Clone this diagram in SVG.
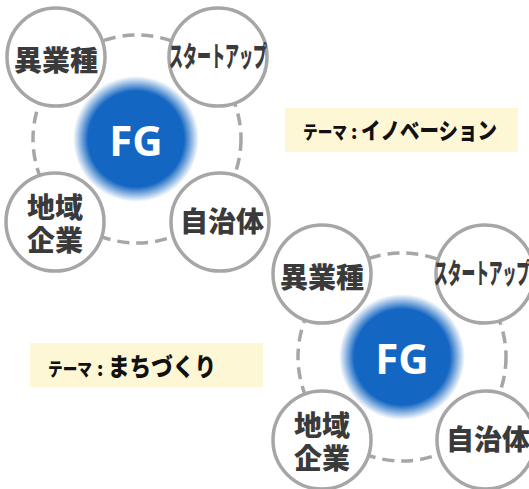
<svg xmlns="http://www.w3.org/2000/svg" width="529" height="489" viewBox="0 0 529 489">
<style>
.ring{fill:none;stroke:#a6a6a6;stroke-width:3.5;stroke-dasharray:12 7}
.sat{fill:#fff;stroke:#a6a6a6;stroke-width:3.5}
.st{font-family:"Noto Sans CJK JP","Noto Sans",sans-serif;font-weight:900;font-size:28px;fill:#3a3a3a;text-anchor:middle}
.fg{font-family:"Noto Sans","Liberation Sans",sans-serif;font-weight:bold;font-size:42px;fill:#fff;text-anchor:middle}
.lbl{fill:#fdf7d6}
.th{font-family:"Noto Sans CJK JP",sans-serif;font-weight:900;fill:#111}
</style>
<defs>
<radialGradient id="blue" cx="0.5" cy="0.5" r="0.5">
<stop offset="0" stop-color="#1366c2"/>
<stop offset="0.76" stop-color="#1366c2"/>
<stop offset="1" stop-color="#1366c2" stop-opacity="0"/>
</radialGradient>
</defs>
<rect width="529" height="489" fill="#fff"/>
<g id="connectors">
<circle class="ring" cx="137" cy="139" r="104"/>
<circle class="ring" cx="402" cy="357" r="104"/>
</g>
<g id="fg1"><circle cx="136" cy="139" r="63" fill="url(#blue)"/><text class="fg" x="136" y="156">FG</text></g>
<g id="ig1"><circle class="sat" cx="56" cy="57" r="49"/><text class="st" x="56" y="71">異業種</text></g>
<g id="su1"><circle class="sat" cx="218" cy="57" r="49"/><text class="st" x="218" y="67" textLength="98" lengthAdjust="spacingAndGlyphs">スタートアップ</text></g>
<g id="cl1"><circle class="sat" cx="55" cy="222" r="49"/><text class="st" x="55" y="218">地域</text><text class="st" x="55" y="251">企業</text></g>
<g id="lg1"><circle class="sat" cx="220" cy="222" r="49"/><text class="st" x="222" y="232">自治体</text></g>
<g id="fg2"><circle cx="402" cy="357" r="63" fill="url(#blue)"/><text class="fg" x="402" y="374">FG</text></g>
<g id="ig2"><circle class="sat" cx="322" cy="274" r="49"/><text class="st" x="322" y="288">異業種</text></g>
<g id="su2"><circle class="sat" cx="485" cy="274" r="49"/><text class="st" x="482" y="284" textLength="96" lengthAdjust="spacingAndGlyphs">スタートアップ</text></g>
<g id="cl2"><circle class="sat" cx="322" cy="440" r="49"/><text class="st" x="322" y="436">地域</text><text class="st" x="322" y="469">企業</text></g>
<g id="lg2"><circle class="sat" cx="486" cy="440" r="49"/><text class="st" x="488" y="450">自治体</text></g>
<g id="theme1"><rect class="lbl" x="285" y="108" width="233" height="44"/>
<text class="th" x="303" y="139" font-size="18" textLength="44" lengthAdjust="spacingAndGlyphs">テーマ</text>
<text class="th" x="351" y="139" font-size="18">:</text>
<text class="th" x="361" y="139" font-size="23" textLength="136" lengthAdjust="spacingAndGlyphs">イノベーション</text></g>
<g id="theme2"><rect class="lbl" x="30" y="343" width="233" height="44"/>
<text class="th" x="48" y="376" font-size="18" textLength="44" lengthAdjust="spacingAndGlyphs">テーマ</text>
<text class="th" x="97" y="376" font-size="18">:</text>
<text class="th" x="108" y="376" font-size="25" textLength="108" lengthAdjust="spacingAndGlyphs">まちづくり</text></g>
</svg>
